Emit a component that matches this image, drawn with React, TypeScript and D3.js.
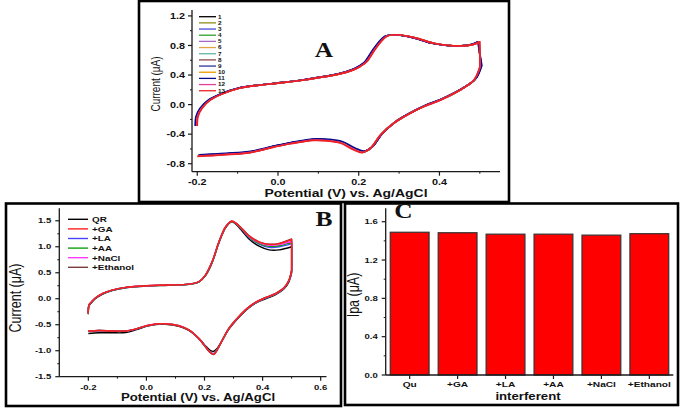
import * as d3 from "d3";
import * as React from "react";

// ---------- Panel A: 13 repeated scans ----------
const scanLabels = ["1", "2", "3", "4", "5", "6", "7", "8", "9", "10", "11", "12", "13"];
const scanColors = [
  "#000000", "#8c8c1e", "#4b4bdc", "#2ea02e", "#a569c8", "#e0a640", "#62b5a6",
  "#8b4747", "#34349a", "#ee9a00", "#0a0a8c", "#e0439c", "#ee2020",
];
// small drift of each scan along the potential axis (V)
const scanShift = [
  -0.003, -0.003, -0.003, -0.003, -0.003, -0.002, -0.002,
  -0.002, -0.003, -0.002, -0.005, -0.001, 0,
];
const aFwdE = [
  -0.2, -0.198, -0.188, -0.168, -0.135, -0.093, -0.04, 0.0, 0.072, 0.154, 0.187,
  0.205, 0.22, 0.245, 0.27, 0.295, 0.336, 0.386, 0.435, 0.485, 0.5,
];
const aFwdI = [
  -0.29, -0.16, -0.05, 0.06, 0.15, 0.225, 0.265, 0.29, 0.34, 0.415, 0.47,
  0.52, 0.58, 0.78, 0.925, 0.945, 0.91, 0.83, 0.795, 0.815, 0.85,
];
const aRevE = [
  0.5, 0.485, 0.452, 0.402, 0.36, 0.32, 0.287, 0.254, 0.229, 0.208, 0.187,
  0.154, 0.12, 0.088, 0.03, -0.01, -0.069, -0.135, -0.2,
];
const aRevI = [
  0.51, 0.33, 0.2, 0.06, -0.03, -0.14, -0.25, -0.41, -0.59, -0.65, -0.61,
  -0.52, -0.49, -0.485, -0.53, -0.575, -0.65, -0.68, -0.7,
];
const aXTicks = [-0.2, 0, 0.2, 0.4];
const aXMinor = [-0.1, 0.1, 0.3, 0.5];
const aYTicks = [-0.8, -0.4, 0, 0.4, 0.8, 1.2];
const aYMinor = [-0.6, -0.2, 0.2, 0.6, 1.0];

// ---------- Panel B: interferents ----------
const bNames = ["QR", "+GA", "+LA", "+AA", "+NaCl", "+Ethanol"];
const bColors = ["#000000", "#ff1f1f", "#4545ff", "#10a010", "#ff3cff", "#7a3c3c"];
const bFwdE = [
  -0.2, -0.198, -0.189, -0.175, -0.152, -0.118, -0.071, 0.0, 0.077, 0.146, 0.18, 0.203,
  0.226, 0.25, 0.273, 0.293, 0.307, 0.33, 0.353, 0.388, 0.422, 0.457, 0.5,
];
const bFwdQR = [
  -0.3, -0.14, -0.075, 0.005, 0.085, 0.155, 0.21, 0.245, 0.258, 0.278, 0.32, 0.44,
  0.69, 1.08, 1.37, 1.48, 1.44, 1.3, 1.15, 1.01, 0.94, 0.94, 1.0,
];
const bFwdGA = [
  -0.28, -0.12, -0.06, 0.02, 0.1, 0.167, 0.218, 0.25, 0.263, 0.282, 0.327, 0.455,
  0.71, 1.1, 1.385, 1.49, 1.46, 1.34, 1.21, 1.09, 1.045, 1.06, 1.14,
];
const bFwdLA = [
  -0.29, -0.13, -0.065, 0.015, 0.095, 0.163, 0.215, 0.248, 0.262, 0.28, 0.325, 0.45,
  0.7, 1.09, 1.38, 1.48, 1.45, 1.32, 1.18, 1.05, 0.99, 1.0, 1.06,
];
const bFwdAA = [
  -0.29, -0.13, -0.065, 0.015, 0.095, 0.163, 0.215, 0.248, 0.262, 0.28, 0.325, 0.45,
  0.7, 1.09, 1.38, 1.48, 1.45, 1.33, 1.19, 1.06, 1.01, 1.02, 1.09,
];
const bFwdNaCl = [
  -0.28, -0.12, -0.06, 0.02, 0.1, 0.167, 0.218, 0.25, 0.263, 0.282, 0.327, 0.455,
  0.71, 1.1, 1.385, 1.49, 1.46, 1.34, 1.2, 1.08, 1.03, 1.04, 1.11,
];
const bFwdEth = [
  -0.28, -0.12, -0.06, 0.02, 0.1, 0.167, 0.218, 0.25, 0.263, 0.282, 0.327, 0.455,
  0.71, 1.1, 1.385, 1.49, 1.46, 1.345, 1.215, 1.095, 1.05, 1.065, 1.15,
];
const bRevE = [
  0.5, 0.491, 0.474, 0.445, 0.41, 0.376, 0.347, 0.318, 0.284, 0.261, 0.244, 0.232, 0.221,
  0.204, 0.181, 0.146, 0.112, 0.066, 0.032, 0.0, -0.037, -0.071, -0.118, -0.163, -0.2,
];
const bRevQR = [
  0.5, 0.33, 0.19, 0.08, 0.0, -0.085, -0.2, -0.36, -0.585, -0.8, -0.95, -1.01, -1.0,
  -0.91, -0.76, -0.61, -0.53, -0.49, -0.495, -0.53, -0.6, -0.65, -0.655, -0.655, -0.67,
];
const bRevGA = [
  0.55, 0.36, 0.21, 0.1, 0.02, -0.07, -0.186, -0.346, -0.57, -0.8, -0.98, -1.07, -1.04,
  -0.93, -0.77, -0.6, -0.52, -0.48, -0.487, -0.52, -0.583, -0.62, -0.62, -0.61, -0.62,
];
const bRevLA = [
  0.52, 0.35, 0.2, 0.09, 0.01, -0.078, -0.193, -0.353, -0.577, -0.8, -0.97, -1.05, -1.03,
  -0.925, -0.77, -0.6, -0.52, -0.48, -0.49, -0.52, -0.585, -0.625, -0.625, -0.615, -0.625,
];
const bRevAA = [
  0.53, 0.35, 0.205, 0.095, 0.015, -0.074, -0.19, -0.35, -0.573, -0.8, -0.975, -1.06, -1.035,
  -0.928, -0.77, -0.6, -0.52, -0.48, -0.488, -0.52, -0.584, -0.622, -0.622, -0.612, -0.622,
];
const bRevNaCl = [
  0.54, 0.355, 0.21, 0.1, 0.02, -0.07, -0.186, -0.346, -0.57, -0.8, -0.98, -1.065, -1.04,
  -0.93, -0.77, -0.6, -0.52, -0.48, -0.487, -0.52, -0.583, -0.62, -0.62, -0.61, -0.62,
];
const bRevEth = [
  0.56, 0.365, 0.215, 0.105, 0.025, -0.066, -0.182, -0.342, -0.567, -0.8, -0.985, -1.075, -1.045,
  -0.935, -0.775, -0.605, -0.525, -0.485, -0.49, -0.522, -0.585, -0.622, -0.622, -0.612, -0.624,
];
const bFwd = [bFwdQR, bFwdGA, bFwdLA, bFwdAA, bFwdNaCl, bFwdEth];
const bRev = [bRevQR, bRevGA, bRevLA, bRevAA, bRevNaCl, bRevEth];
const bDrawOrder = [0, 2, 3, 4, 5, 1];
const bXTicks = [-0.2, 0, 0.2, 0.4, 0.6];
const bXMinor = [-0.1, 0.1, 0.3, 0.5];
const bYTicks = [-1.5, -1.0, -0.5, 0, 0.5, 1.0, 1.5];
const bYMinor = [-1.25, -0.75, -0.25, 0.25, 0.75, 1.25];

// ---------- Panel C: Ipa bars ----------
const cCats = ["Qu", "+GA", "+LA", "+AA", "+NaCl", "+Ethanol"];
const cIpa = [1.49, 1.485, 1.47, 1.47, 1.46, 1.475];
const cYTicks = [0, 0.4, 0.8, 1.2, 1.6];
const cYMinor = [0.2, 0.6, 1.0, 1.4];

const ARIAL = "'Liberation Sans', Arial, sans-serif";
const TIMES = "'Liberation Serif', 'Times New Roman', serif";
const SX = 1.27; // the figure is stretched horizontally
const AX = "#1a1a1a";
const fmt = (v: number) => v.toFixed(1);

function Label({ x, y, size, anchor = "middle", weight = "bold", family = ARIAL, vertical = false, children }: any) {
  const tr = vertical
    ? `translate(${x},${y}) scale(${SX},1) rotate(-90)`
    : `translate(${x},${y}) scale(${SX},1)`;
  return (
    <text
      transform={tr}
      dy={vertical ? "0.35em" : undefined}
      fontSize={size}
      textAnchor={anchor}
      fontWeight={weight}
      fontFamily={family}
      fill="#111"
    >
      {children}
    </text>
  );
}

// forward sweep and reverse sweep are smoothed separately, joined by a straight switch
function cvPath(line: any, fwd: [number, number][], rev: [number, number][]) {
  const a = line(fwd) || "";
  const b = (line(rev) || "").replace(/^M/, "L");
  return a + b;
}

function YAxis({ scale, x, ticks, minor, size, gap }: any) {
  const [b, t] = scale.range();
  return (
    <g>
      <line x1={x} x2={x} y1={b} y2={t} stroke={AX} strokeWidth={1.3} />
      {ticks.map((v: number) => (
        <g key={v}>
          <line x1={x - 4} x2={x} y1={scale(v)} y2={scale(v)} stroke={AX} strokeWidth={1.2} />
          <Label x={x - gap} y={scale(v) + size * 0.36} size={size} anchor="end">
            {fmt(v)}
          </Label>
        </g>
      ))}
      {minor.map((v: number) => (
        <line key={v} x1={x - 2} x2={x} y1={scale(v)} y2={scale(v)} stroke={AX} strokeWidth={1} />
      ))}
    </g>
  );
}

function XAxis({ x0, x1, y, pos, ticks, labels, minor, size, labelY }: any) {
  return (
    <g>
      <line x1={x0} x2={x1} y1={y} y2={y} stroke={AX} strokeWidth={1.3} />
      {ticks.map((v: any, i: number) => (
        <g key={i}>
          <line x1={pos(v)} x2={pos(v)} y1={y} y2={y + 4} stroke={AX} strokeWidth={1.2} />
          <Label x={pos(v)} y={labelY} size={size}>
            {labels[i]}
          </Label>
        </g>
      ))}
      {minor.map((v: number) => (
        <line key={v} x1={pos(v)} x2={pos(v)} y1={y} y2={y + 2} stroke={AX} strokeWidth={1} />
      ))}
    </g>
  );
}

function PanelA() {
  const x = d3.scaleLinear().domain([-0.213, 0.55]).range([192, 500]);
  const y = d3.scaleLinear().domain([-0.908, 1.28]).range([171.7, 10]);
  const line = d3
    .line<[number, number]>()
    .x((d) => x(d[0]))
    .y((d) => y(d[1]))
    .curve(d3.curveCatmullRom.alpha(0.5));
  return (
    <g>
      <rect x={139} y={1} width={370} height={201} fill="none" stroke="#000" strokeWidth={2.6} />
      {scanLabels.map((s, k) => {
        const fwd = aFwdE.map((e, i) => [e + scanShift[k], aFwdI[i]] as [number, number]);
        const rev = aRevE.map((e, i) => [e - scanShift[k], aRevI[i] - scanShift[k] * 4] as [number, number]);
        return <path key={s} d={cvPath(line, fwd, rev)} fill="none" stroke={scanColors[k]} strokeWidth={1.7} strokeLinejoin="round" />;
      })}
      <YAxis scale={y} x={192} ticks={aYTicks} minor={aYMinor} size={8.5} gap={7} />
      <XAxis
        x0={192} x1={500} y={171.7} pos={x} ticks={aXTicks}
        labels={aXTicks.map(fmt)} minor={aXMinor} size={8.5} labelY={184.8}
      />
      <Label x={346} y={197} size={11}>Potential (V) vs. Ag/AgCl</Label>
      <Label x={156} y={84} size={10} weight="normal" vertical>Current (μA)</Label>
      {scanLabels.map((s, k) => (
        <g key={s}>
          <line x1={199} x2={216} y1={16.7 + k * 6.17} y2={16.7 + k * 6.17} stroke={scanColors[k]} strokeWidth={1.3} />
          <Label x={218} y={16.7 + k * 6.17 + 1.8} size={5} anchor="start">{s}</Label>
        </g>
      ))}
      <Label x={324} y={57.3} size={20} family={TIMES}>A</Label>
    </g>
  );
}

function PanelB() {
  const x = d3.scaleLinear().domain([-0.3, 0.62]).range([59.3, 326.5]);
  const y = d3.scaleLinear().domain([-1.5, 1.74]).range([376.7, 208.3]);
  const line = d3
    .line<[number, number]>()
    .x((d) => x(d[0]))
    .y((d) => y(d[1]))
    .curve(d3.curveCatmullRom.alpha(0.5));
  return (
    <g>
      <rect x={6} y={203.5} width={335} height={202.5} fill="none" stroke="#000" strokeWidth={2.6} />
      {bDrawOrder.map((k) => {
        const fwd = bFwdE.map((e, i) => [e, bFwd[k][i]] as [number, number]);
        const rev = bRevE.map((e, i) => [e, bRev[k][i]] as [number, number]);
        return <path key={k} d={cvPath(line, fwd, rev)} fill="none" stroke={bColors[k]} strokeWidth={1.4} strokeLinejoin="round" />;
      })}
      <YAxis scale={y} x={59.3} ticks={bYTicks} minor={bYMinor} size={7.5} gap={8} />
      <XAxis
        x0={59.3} x1={326.5} y={376.7} pos={x} ticks={bXTicks}
        labels={bXTicks.map(fmt)} minor={bXMinor} size={7.5} labelY={389.5}
      />
      <Label x={198} y={401.3} size={10.4}>Potential (V) vs. Ag/AgCl</Label>
      <Label x={15} y={298} size={12.5} weight="normal" vertical>Current (μA)</Label>
      {bNames.map((n, k) => (
        <g key={n}>
          <line x1={68} x2={88} y1={219.3 + k * 9.6} y2={219.3 + k * 9.6} stroke={bColors[k]} strokeWidth={1.4} />
          <Label x={92} y={219.3 + k * 9.6 + 2.8} size={7.8} anchor="start">{n}</Label>
        </g>
      ))}
      <Label x={324} y={225.7} size={20} family={TIMES}>B</Label>
    </g>
  );
}

function PanelC() {
  const x = d3.scaleBand<string>().domain(cCats).range([385.7, 673.3]).paddingInner(0.19).paddingOuter(0.095);
  const y = d3.scaleLinear().domain([0, 1.74]).range([375, 208.3]);
  const center = (c: string) => (x(c) as number) + x.bandwidth() / 2;
  return (
    <g>
      <rect x={345} y={203.5} width={333} height={201.5} fill="none" stroke="#000" strokeWidth={2.6} />
      {cCats.map((c, i) => (
        <rect
          key={c}
          x={x(c)}
          y={y(cIpa[i])}
          width={x.bandwidth()}
          height={y(0) - y(cIpa[i])}
          fill="#ff0000"
          stroke="#333"
          strokeWidth={1.2}
        />
      ))}
      <YAxis scale={y} x={385.7} ticks={cYTicks} minor={cYMinor} size={7.5} gap={8} />
      <XAxis
        x0={385.7} x1={673.3} y={375} pos={center} ticks={cCats}
        labels={cCats} minor={[]} size={8} labelY={386.5}
      />
      <Label x={528} y={400.3} size={10.4}>interferent</Label>
      <Label x={353} y={295} size={12.5} weight="normal" vertical>Ipa (μA)</Label>
      <Label x={403.3} y={217.7} size={20} family={TIMES}>C</Label>
    </g>
  );
}

export default function App() {
  return (
    <svg
      width={685}
      height={409}
      style={{ position: "absolute", left: 0, top: 0, background: "#fff" }}
    >
      <rect width={685} height={409} fill="#fff" />
      <PanelA />
      <PanelB />
      <PanelC />
    </svg>
  );
}
